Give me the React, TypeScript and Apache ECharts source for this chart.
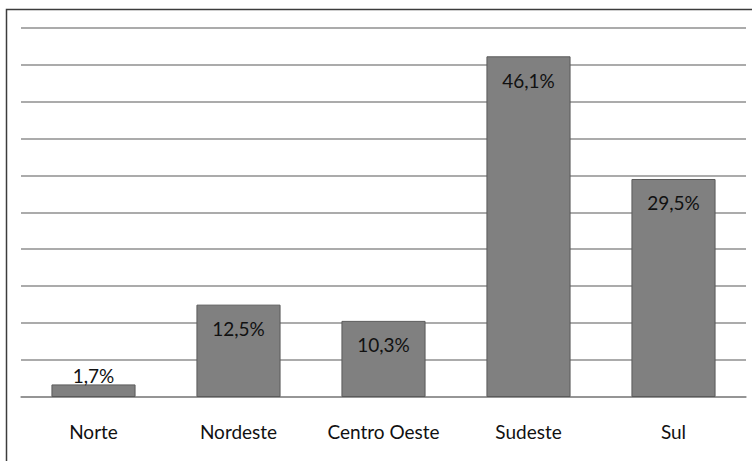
import React, { useEffect, useRef } from "react";
import * as echarts from "echarts";

const categories = ["Norte", "Nordeste", "Centro Oeste", "Sudeste", "Sul"];
const values = [1.7, 12.5, 10.3, 46.1, 29.5];
const labelPositions = ["top", "insideTop", "insideTop", "insideTop", "insideTop"];

const FONT = "Lato";

export default function App() {
  const ref = useRef<HTMLDivElement>(null);
  useEffect(() => {
    if (!ref.current) return;
    const chart = echarts.init(ref.current, undefined, { renderer: "svg" });
    chart.setOption({
      animation: false,
      backgroundColor: "#ffffff",
      grid: { left: 21, right: 6, top: 27.5, bottom: 64, containLabel: false },
      graphic: [
        {
          type: "rect",
          shape: { x: 6.5, y: 9.5, width: 900, height: 600 },
          style: { fill: "none", stroke: "#3c3c3c", lineWidth: 1.5 },
          silent: true,
          z: 100,
        },
      ],
      xAxis: {
        type: "category",
        data: categories,
        axisTick: { show: false },
        axisLine: { show: true, lineStyle: { color: "#8f8f8f", width: 1.5 } },
        axisLabel: {
          interval: 0,
          hideOverlap: false,
          fontFamily: FONT,
          fontSize: 19,
          color: "#111111",
          margin: 24,
          lineHeight: 20,
        },
      },
      yAxis: {
        type: "value",
        min: 0,
        max: 50,
        interval: 5,
        axisLabel: { show: false },
        axisLine: { show: false },
        axisTick: { show: false },
        splitLine: { lineStyle: { color: "#8f8f8f", width: 1.5 } },
      },
      series: [
        {
          type: "bar",
          barWidth: "58%",
          data: values.map((v, i) => ({
            value: v,
            label: {
              position: labelPositions[i],
              distance: labelPositions[i] === "top" ? -1 : 14,
            },
          })),
          itemStyle: { color: "#808080", borderColor: "#5a5a5a", borderWidth: 1 },
          label: {
            show: true,
            fontFamily: FONT,
            fontSize: 19,
            lineHeight: 20,
            color: "#111111",
            formatter: (p: any) => p.value.toFixed(1).replace(".", ",") + "%",
          },
        },
      ],
    });
    return () => chart.dispose();
  }, []);
  return (
    <div
      ref={ref}
      style={{ position: "fixed", left: 0, top: 0, width: 752, height: 461, background: "#fff" }}
    />
  );
}
